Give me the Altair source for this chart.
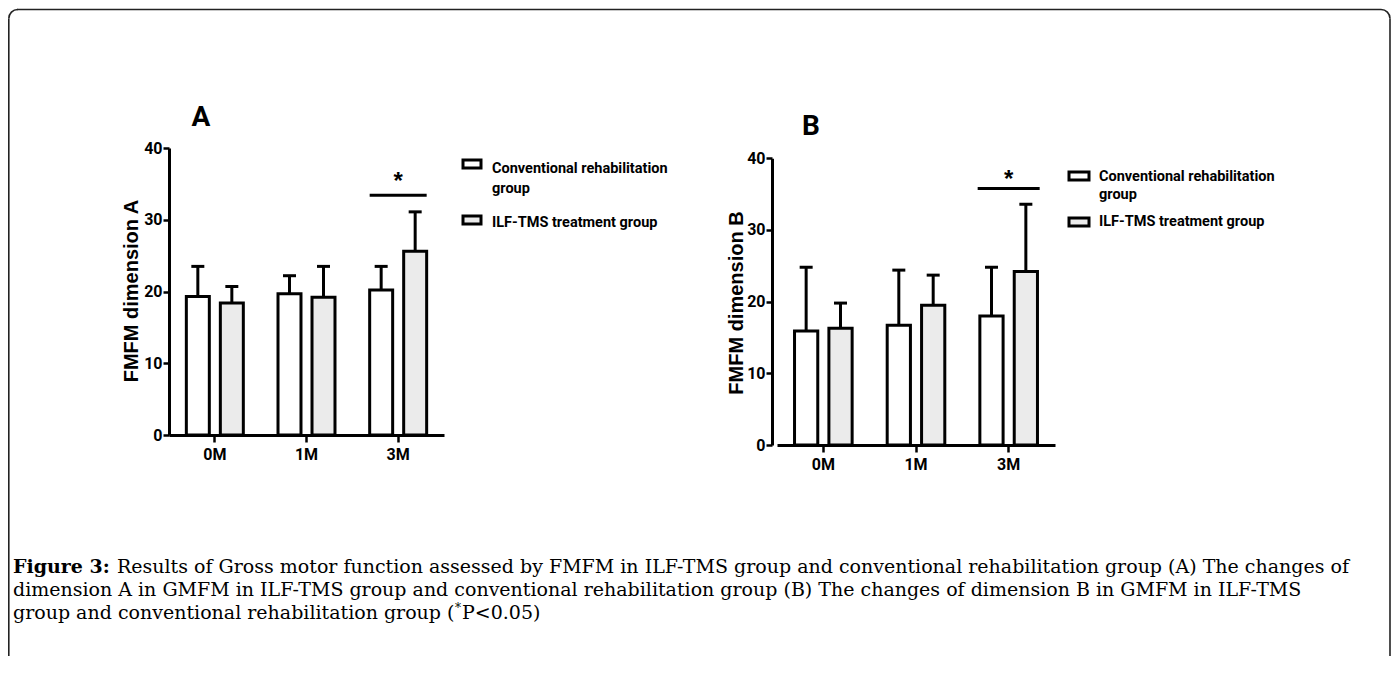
import math
import altair as alt
import pandas as pd

# ---------------- data ----------------
times = ["0M", "1M", "3M"]
groups = ["Conventional rehabilitation group", "ILF-TMS treatment group"]

conv_a_mean = [19.3, 19.7, 20.2]
conv_a_upper = [23.5, 22.2, 23.5]
ilf_a_mean = [18.4, 19.2, 25.6]
ilf_a_upper = [20.7, 23.5, 31.1]

conv_b_mean = [15.9, 16.7, 18.0]
conv_b_upper = [24.8, 24.4, 24.8]
ilf_b_mean = [16.3, 19.5, 24.2]
ilf_b_upper = [19.8, 23.7, 33.6]

sig_time = ["3M"]
sig_a_line = [33.4]
sig_a_star = [35.8]
sig_b_line = [35.8]
sig_b_star = [37.6]

y_ticks = [0, 10, 20, 30, 40]

caption_bold = "Figure 3:"
caption_lines = [
    "Results of Gross motor function assessed by FMFM in ILF-TMS group and conventional rehabilitation group (A) The changes of",
    "dimension A in GMFM in ILF-TMS group and conventional rehabilitation group (B) The changes of dimension B in GMFM in ILF-TMS",
    "group and conventional rehabilitation group (",
]
caption_sup = "*"
caption_tail = "P<0.05)"

SANS = "Roboto, Liberation Sans, sans-serif"
SERIF = "DejaVu Serif, serif"
DOT_FILL = "#ebebeb"
W, H = 1383, 648


def make_df(conv_mean, conv_upper, ilf_mean, ilf_upper):
    rows = []
    for i, t in enumerate(times):
        rows.append({"time": t, "group": groups[0], "mean": conv_mean[i], "upper": conv_upper[i]})
        rows.append({"time": t, "group": groups[1], "mean": ilf_mean[i], "upper": ilf_upper[i]})
    return pd.DataFrame(rows)


def panel(df, sig_line, sig_star, xrange, yrange, xoff, yoff, sig_size):
    xs = alt.Scale(domain=times, range=xrange, paddingInner=0, paddingOuter=0)
    ys = alt.Scale(domain=[0, 40], range=yrange, nice=False, zero=True)
    xo = alt.Scale(domain=groups, paddingInner=0.324, paddingOuter=0.51)
    fs = alt.Scale(domain=groups, range=["white", DOT_FILL])
    xaxis = alt.Axis(orient="bottom", offset=xoff, title=None, labelFont=SANS,
                     labelFontWeight="bold", labelFontSize=16, labelColor="black",
                     labelAngle=0, labelPadding=4, tickSize=7, tickWidth=2.5,
                     tickColor="black", domainWidth=3, domainColor="black", grid=False)
    yaxis = alt.Axis(orient="left", offset=yoff, title=None, values=y_ticks,
                     labelFont=SANS, labelFontWeight="bold", labelFontSize=16,
                     labelColor="black", labelPadding=1, tickSize=6, tickWidth=2.5,
                     tickColor="black", domainWidth=3, domainColor="black", grid=False)
    base = alt.Chart(df)
    bars = base.mark_bar(stroke="black", strokeWidth=3).encode(
        x=alt.X("time:N", scale=xs, axis=xaxis, sort=times),
        xOffset=alt.XOffset("group:N", scale=xo, sort=groups),
        y=alt.Y("mean:Q", scale=ys, axis=yaxis),
        fill=alt.Fill("group:N", scale=fs, legend=None),
    )
    err = base.mark_rule(stroke="black", strokeWidth=3).encode(
        x=alt.X("time:N", sort=times),
        xOffset=alt.XOffset("group:N", sort=groups),
        y="mean:Q", y2="upper:Q",
    )
    cap = base.mark_tick(color="black", size=13, thickness=3, opacity=1).encode(
        x=alt.X("time:N", sort=times),
        xOffset=alt.XOffset("group:N", sort=groups),
        y="upper:Q",
    )
    sdf = pd.DataFrame({"time": sig_time, "line": sig_line, "star": sig_star})
    sline = alt.Chart(sdf).mark_tick(color="black", size=sig_size, thickness=3, opacity=1).encode(
        x=alt.X("time:N", sort=times), y="line:Q")
    star = alt.Chart(sdf).mark_text(text="*", font="Liberation Sans", fontSize=24,
                                    fontWeight="bold", baseline="middle", dy=4, color="black").encode(
        x=alt.X("time:N", sort=times), y="star:Q")
    return alt.layer(bars, err, cap, sline, star)


one = pd.DataFrame({"k": [0]})


def txt(s, x, y, **kw):
    return alt.Chart(one).mark_text(**kw).encode(
        x=alt.value(x), y=alt.value(y), text=alt.value(s))


def box(x, x2, y, y2, fill):
    return alt.Chart(one).mark_rect(fill=fill, stroke="black", strokeWidth=3).encode(
        x=alt.value(x), x2=alt.value(x2), y=alt.value(y), y2=alt.value(y2))


def hrule(x, x2, y):
    return alt.Chart(one).mark_rule(color="#222", strokeWidth=1.6).encode(
        x=alt.value(x), x2=alt.value(x2), y=alt.value(y))


def vrule(x, y, y2):
    return alt.Chart(one).mark_rule(color="#222", strokeWidth=1.6).encode(
        x=alt.value(x), y=alt.value(y), y2=alt.value(y2))


def corner(x, y, t1, t2):
    return alt.Chart(one).mark_arc(radius=9.8, radius2=8.2, color="#222").encode(
        x=alt.value(x), y=alt.value(y), theta=alt.value(t1), theta2=alt.value(t2))


dfa = make_df(conv_a_mean, conv_a_upper, ilf_a_mean, ilf_a_upper)
dfb = make_df(conv_b_mean, conv_b_upper, ilf_b_mean, ilf_b_upper)

pa = panel(dfa, sig_a_line, sig_a_star, [161, 436], [427, 140], -(H - 427), -161, 57)
pb = panel(dfb, sig_b_line, sig_b_star, [769, 1047], [437, 150.3], -(H - 437), -764, 62)

leg_kw = dict(font=SANS, fontWeight="bold", fontSize=14.5, align="left", baseline="alphabetic", color="black")
title_kw = dict(font=SANS, fontWeight="bold", fontSize=28, align="center", baseline="middle", color="black")
ytitle_kw = dict(font="Liberation Sans", fontWeight="bold", fontSize=20, angle=270,
                 align="center", baseline="middle", color="black")
cap_kw = dict(font=SERIF, fontSize=19, align="left", baseline="alphabetic", color="black")

RX = W - 1
annot = [
    hrule(9, RX - 9, 1.5),
    vrule(0.8, 10.5, H),
    vrule(RX, 10.5, H),
    corner(9.8, 10.5, 3 * math.pi / 2, 2 * math.pi),
    corner(RX - 9, 10.5, 0, math.pi / 2),
    txt("A", 193, 110, **title_kw),
    txt("B", 803, 119, **title_kw),
    txt("FMFM dimension A", 124, 283, **ytitle_kw),
    txt("FMFM dimension B", 729, 295, **ytitle_kw),
    box(455, 473, 152, 160, "white"),
    box(455, 473, 208, 216, DOT_FILL),
    txt("Conventional rehabilitation", 484, 165, **leg_kw),
    txt("group", 484, 185, **leg_kw),
    txt("ILF-TMS treatment group", 484, 219, **leg_kw),
    box(1061, 1081, 164, 172, "white"),
    box(1061, 1081, 210, 218, DOT_FILL),
    txt("Conventional rehabilitation", 1091, 173, **leg_kw),
    txt("group", 1091, 191, **leg_kw),
    txt("ILF-TMS treatment group", 1091, 218, **leg_kw),
    txt(caption_bold, 5, 565, font=SERIF, fontWeight="bold", fontSize=19, align="left",
        baseline="alphabetic", color="black"),
    txt(caption_lines[0], 109, 565, **cap_kw),
    txt(caption_lines[1], 5, 588, **cap_kw),
    txt(caption_lines[2], 5, 611, **cap_kw),
    txt(caption_sup, 447, 604, font=SERIF, fontSize=12, align="left", baseline="alphabetic", color="black"),
    txt(caption_tail, 454, 611, **cap_kw),
]

chart = alt.layer(pa, pb, *annot).resolve_scale(
    x="independent", y="independent", xOffset="independent"
).properties(
    width=W, height=H, autosize=alt.AutoSizeParams(type="none"), padding=0,
    background="white"
).configure_view(stroke=None)

chart.save("out.html", embed_options={"renderer": "svg", "actions": False})
